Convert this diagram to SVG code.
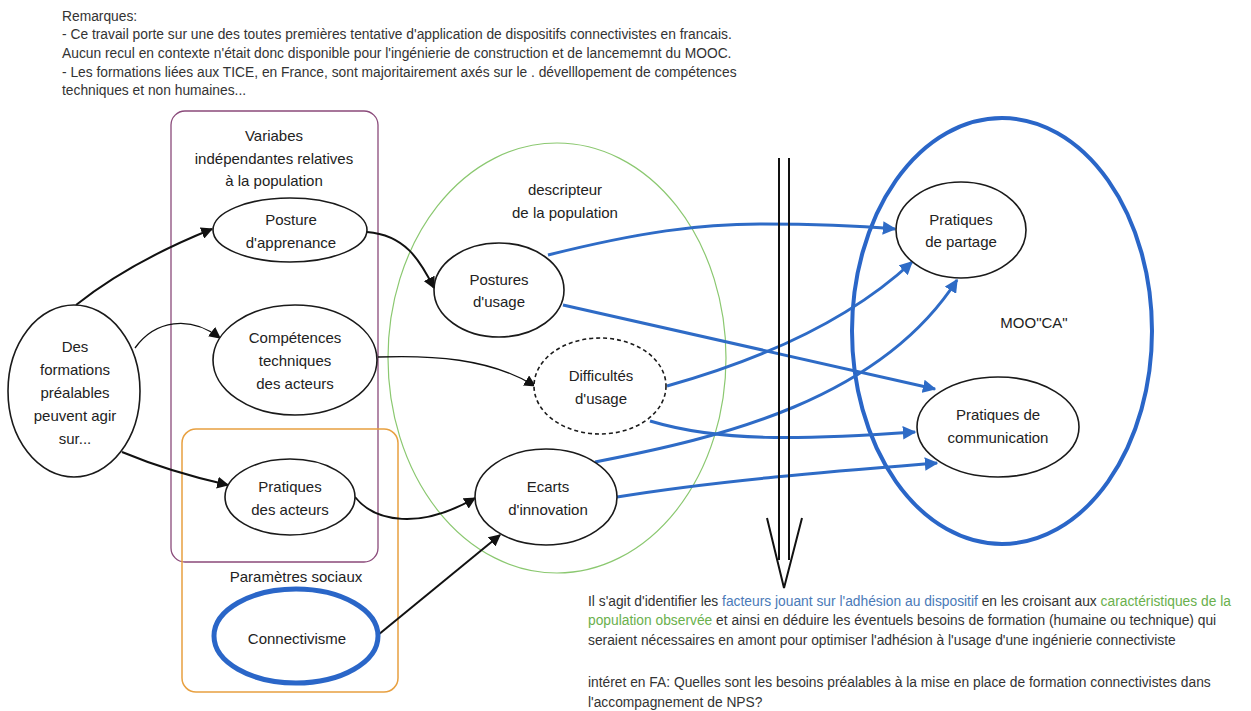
<svg xmlns="http://www.w3.org/2000/svg" width="1251" height="711" viewBox="0 0 1251 711">
<style>
.bg{fill:#ffffff}
.note{font-family:"Liberation Sans",Arial,sans-serif;font-size:13.8px;fill:#333333}
.lbl{font-family:"Liberation Sans",Arial,sans-serif;font-size:15px;fill:#222222;text-anchor:middle}
.node{fill:#ffffff;stroke:#1a1a1a;stroke-width:1.6}
.dash{stroke-dasharray:4 3}
.blk{fill:none;stroke:#111111;stroke-width:2}
.thin{stroke-width:1.3}
.blu{fill:none;stroke:#2e6bc6;stroke-width:3}
.blue-t{fill:#4a7ab8}
.green-t{fill:#6ab04c}
</style>
<defs>
<marker id="ab" viewBox="0 0 10 10" refX="9" refY="5" markerWidth="6" markerHeight="6" markerUnits="strokeWidth" orient="auto">
<path d="M0,0 L10,5 L0,10 z" fill="#111111"/>
</marker>
<marker id="ab2" viewBox="0 0 10 10" refX="9" refY="5" markerWidth="9" markerHeight="9" markerUnits="strokeWidth" orient="auto">
<path d="M0,0 L10,5 L0,10 z" fill="#111111"/>
</marker>
<marker id="au" viewBox="0 0 10 10" refX="9" refY="5" markerWidth="4.5" markerHeight="4.5" markerUnits="strokeWidth" orient="auto">
<path d="M0,0 L10,5 L0,10 z" fill="#2e6bc6"/>
</marker>
</defs>
<rect class="bg" x="0" y="0" width="1251" height="711"/>

<g id="remarques">
<text class="note" x="62" y="21">Remarques:</text>
<text class="note" x="62" y="39">- Ce travail porte sur une des toutes premières tentative d'application de dispositifs connectivistes en francais.</text>
<text class="note" x="62" y="58">Aucun recul en contexte n'était donc disponible pour l'ingénierie de construction et de lancememnt du MOOC.</text>
<text class="note" x="62" y="77">- Les formations liées aux TICE, en France, sont majoritairement axés sur le . dévelllopement de compétences</text>
<text class="note" x="62" y="95">techniques et non humaines...</text>
</g>

<g id="groupe-variables">
<rect x="171" y="111" width="207" height="451" rx="14" fill="none" stroke="#8a4a7a" stroke-width="1.3"/>
<text class="lbl" x="274" y="141" font-size="16">Variabes</text>
<text class="lbl" x="274" y="164" font-size="16">indépendantes relatives</text>
<text class="lbl" x="274" y="186" font-size="16">à la population</text>
</g>

<g id="groupe-parametres">
<rect x="182" y="429" width="216" height="263" rx="14" fill="none" stroke="#e8a040" stroke-width="1.5"/>
<text class="lbl" x="296" y="582">Paramètres sociaux</text>
</g>

<g id="groupe-descripteur">
<ellipse cx="557" cy="358" rx="169" ry="215" fill="none" stroke="#8bc870" stroke-width="1.2"/>
<text class="lbl" x="565" y="195">descripteur</text>
<text class="lbl" x="565" y="218">de la population</text>
</g>

<g id="groupe-mooca">
<ellipse cx="1002" cy="331" rx="150" ry="213" fill="none" stroke="#2a66c8" stroke-width="4"/>
<text class="lbl" x="1034" y="328">MOO"CA"</text>
</g>

<g id="connectors">
<path class="blk" d="M76,305 Q130,262 212,229" marker-end="url(#ab)"/>
<path class="blk thin" d="M135,348 C155,320 190,315 220,338" marker-end="url(#ab2)"/>
<path class="blk" d="M122,452 Q170,472 228,485" marker-end="url(#ab)"/>
<path class="blk" d="M367,232 C405,235 420,260 434,288" marker-end="url(#ab)"/>
<path class="blk thin" d="M378,357 C430,355 490,358 535,386" marker-end="url(#ab2)"/>
<path class="blk" d="M355,497 C375,522 420,530 475,498" marker-end="url(#ab)"/>
<path class="blk" d="M378,635 L500,535" marker-end="url(#ab)"/>
<path class="blu" d="M548,255 C640,232 700,224 760,224 C820,224 860,226 895,229" marker-end="url(#au)"/>
<path class="blu" d="M563,305 L935,389" marker-end="url(#au)"/>
<path class="blu" d="M667,386 C760,360 850,320 912,262" marker-end="url(#au)"/>
<path class="blu" d="M650,421 C720,442 800,440 915,432" marker-end="url(#au)"/>
<path class="blu" d="M595,462 C720,438 880,400 957,280" marker-end="url(#au)"/>
<path class="blu" d="M617,497 C720,480 850,470 937,463" marker-end="url(#au)"/>
<g id="fleche-double" fill="none" stroke="#111111" stroke-width="2">
<line x1="779" y1="158" x2="779" y2="560"/>
<line x1="789" y1="158" x2="789" y2="560"/>
<polyline points="767,518 784,588 802,518"/>
</g>
</g>

<g id="des-formations">
<ellipse class="node" cx="74" cy="391" rx="66" ry="86"/>
<text class="lbl" x="75" y="352">Des</text>
<text class="lbl" x="75" y="375">formations</text>
<text class="lbl" x="75" y="398">préalables</text>
<text class="lbl" x="75" y="421">peuvent agir</text>
<text class="lbl" x="75" y="444">sur...</text>
</g>

<g id="posture-apprenance">
<ellipse class="node" cx="290" cy="230" rx="77" ry="32"/>
<text class="lbl" x="291" y="225">Posture</text>
<text class="lbl" x="291" y="248">d'apprenance</text>
</g>

<g id="competences">
<ellipse class="node" cx="295" cy="360" rx="82" ry="55"/>
<text class="lbl" x="295" y="343">Compétences</text>
<text class="lbl" x="295" y="366">techniques</text>
<text class="lbl" x="295" y="389">des acteurs</text>
</g>

<g id="pratiques-acteurs">
<ellipse class="node" cx="290" cy="497" rx="65" ry="38"/>
<text class="lbl" x="290" y="492">Pratiques</text>
<text class="lbl" x="290" y="515">des acteurs</text>
</g>

<g id="connectivisme">
<ellipse cx="296" cy="636" rx="82" ry="47" fill="#ffffff" stroke="#2a66c8" stroke-width="5"/>
<text class="lbl" x="297" y="644">Connectivisme</text>
</g>

<g id="postures-usage">
<ellipse class="node" cx="499" cy="290" rx="65" ry="47"/>
<text class="lbl" x="499" y="285">Postures</text>
<text class="lbl" x="499" y="307">d'usage</text>
</g>

<g id="difficultes-usage">
<ellipse class="node dash" cx="600" cy="386" rx="66" ry="48"/>
<text class="lbl" x="601" y="381">Difficultés</text>
<text class="lbl" x="601" y="404">d'usage</text>
</g>

<g id="ecarts-innovation">
<ellipse class="node" cx="546" cy="497" rx="71" ry="48"/>
<text class="lbl" x="548" y="492">Ecarts</text>
<text class="lbl" x="548" y="515">d'innovation</text>
</g>

<g id="pratiques-partage">
<ellipse class="node" cx="961" cy="230" rx="65" ry="48"/>
<text class="lbl" x="961" y="225">Pratiques</text>
<text class="lbl" x="961" y="247">de partage</text>
</g>

<g id="pratiques-communication">
<ellipse class="node" cx="998" cy="427" rx="81" ry="50"/>
<text class="lbl" x="998" y="420">Pratiques de</text>
<text class="lbl" x="998" y="443">communication</text>
</g>

<g id="texte-bas">
<text class="note" x="588" y="606">Il s'agit d'identifier les <tspan class="blue-t">facteurs jouant sur l'adhésion au dispositif</tspan> en les croisant aux <tspan class="green-t">caractéristiques de la</tspan></text>
<text class="note" x="588" y="625"><tspan class="green-t">population observée</tspan>  et ainsi en déduire les éventuels besoins de formation  (humaine ou technique) qui</text>
<text class="note" x="588" y="645">seraient nécessaires en amont pour optimiser l'adhésion à l'usage d'une ingénierie connectiviste</text>
<text class="note" x="588" y="687">intéret en FA: Quelles sont les besoins préalables à la mise en place de formation connectivistes dans</text>
<text class="note" x="588" y="707">l'accompagnement de NPS?</text>
</g>
</svg>
